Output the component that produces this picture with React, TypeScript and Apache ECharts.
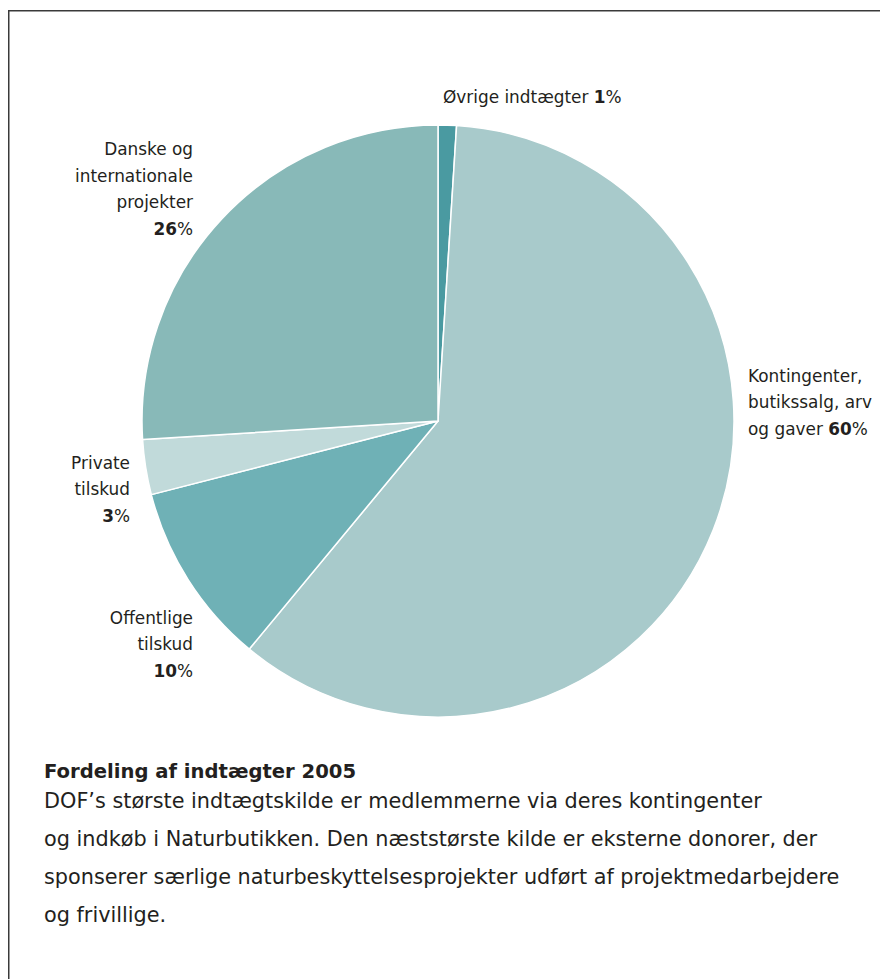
import React, { useEffect, useRef } from "react";
import * as echarts from "echarts";

const categories = [
  "Øvrige indtægter",
  "Kontingenter,\nbutikssalg, arv\nog gaver",
  "Offentlige\ntilskud",
  "Private\ntilskud",
  "Danske og\ninternationale\nprojekter",
];
const values = [1, 60, 10, 3, 26];
const sliceColors = ["#4a9aa1", "#a8cacb", "#6fb1b6", "#c1dada", "#88b9b8"];
const valueOnNewLine = [false, false, true, true, true];

const titleText = "Fordeling af indtægter 2005";
const bodyLines = [
  "DOF\u2019s største indtægtskilde er medlemmerne via deres kontingenter",
  "og indkøb i Naturbutikken. Den næststørste kilde er eksterne donorer, der",
  "sponserer særlige naturbeskyttelsesprojekter udført af projektmedarbejdere",
  "og frivillige.",
];

// label layout (chart pixel coords)
const labelPos = [
  { x: 435, y: 89, align: "left" },
  { x: 740, y: 394, align: "left" },
  { x: 185, y: 636, align: "right" },
  { x: 122, y: 481, align: "right" },
  { x: 185, y: 181, align: "right" },
];

const FONT = "'DejaVu Sans', 'Noto Sans', sans-serif";
const TXT = "#231f20";
const LBL = 16.9;

export default function App() {
  const ref = useRef<HTMLDivElement>(null);
  useEffect(() => {
    const chart = echarts.init(ref.current!, null, { renderer: "svg" });
    const data = categories.map((name, i) => ({
      name,
      value: values[i],
      itemStyle: { color: sliceColors[i] },
    }));
    chart.setOption({
      animation: false,
      backgroundColor: "#ffffff",
      graphic: [
        {
          type: "rect",
          shape: { x: 0.75, y: 2.75, width: 1200, height: 2000 },
          style: { fill: "none", stroke: "#3a3a3a", lineWidth: 1.5 },
          silent: true,
        },
        {
          type: "text",
          x: 36,
          y: 763,
          style: {
            text: titleText,
            font: `bold 19.6px ${FONT}`,
            fill: TXT,
            verticalAlign: "middle",
            align: "left",
          },
        },
        {
          type: "text",
          x: 36,
          y: 774,
          style: {
            text: bodyLines.join("\n"),
            font: `20.8px ${FONT}`,
            lineHeight: 38,
            fill: TXT,
            verticalAlign: "top",
            align: "left",
          },
        },
      ],
      series: [
        {
          type: "pie",
          center: [430, 413],
          radius: [0, 296],
          startAngle: 90,
          clockwise: true,
          data,
          itemStyle: { borderColor: "#ffffff", borderWidth: 1.5 },
          labelLine: { show: false },
          emphasis: { disabled: true },
          label: {
            show: true,
            color: TXT,
            fontFamily: FONT,
            fontSize: LBL,
            lineHeight: 26.5,
            overflow: "none",
            width: 400,
            formatter: (p: any) => {
              const i = p.dataIndex;
              const lines = String(p.name)
                .split("\n")
                .map((l: string) => `{n|${l}}`);
              const val = `{b|${values[i]}}{n|%}`;
              if (valueOnNewLine[i]) {
                return lines.join("\n") + "\n" + val;
              }
              return lines.join("\n") + "{n| }" + val;
            },
            rich: {
              n: { fontFamily: FONT, fontSize: LBL, color: TXT, lineHeight: 26.5 },
              b: {
                fontFamily: FONT,
                fontSize: LBL,
                fontWeight: "bold",
                color: TXT,
                lineHeight: 26.5,
              },
            },
          },
          labelLayout: (params: any) => {
            const p = labelPos[params.dataIndex];
            return { x: p.x, y: p.y, align: p.align, verticalAlign: "middle" };
          },
        },
      ],
    });
    return () => chart.dispose();
  }, []);
  return <div ref={ref} style={{ width: 880, height: 971 }} />;
}
